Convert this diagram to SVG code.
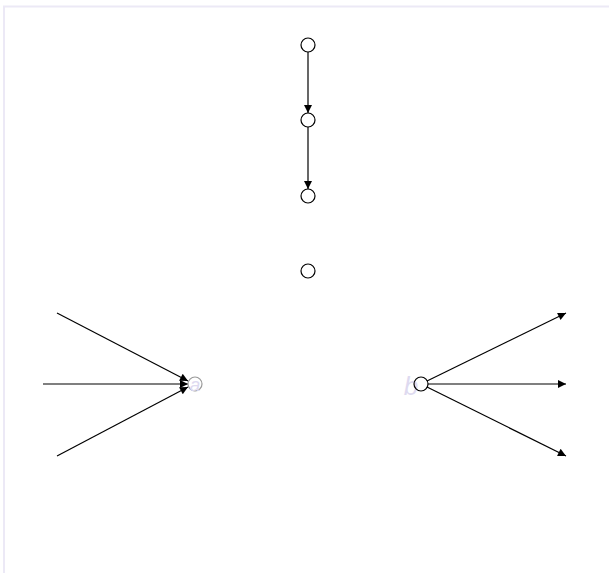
<svg xmlns="http://www.w3.org/2000/svg" width="609" height="573" viewBox="0 0 609 573">
<style>
.node{fill:#fff;stroke:#000;stroke-width:1.2}
.edge{stroke:#000;stroke-width:1.2;fill:none}
.lbl{font-family:"Liberation Sans",Arial,sans-serif;font-style:italic;fill:#dedaf0}
</style>
<defs>
<marker id="arr" viewBox="0 0 10 10" refX="10" refY="5" markerWidth="11" markerHeight="8" markerUnits="userSpaceOnUse" orient="auto">
<path d="M0,0 L10,5 L0,10 z" fill="#000"/>
</marker>
</defs>
<rect x="0" y="0" width="609" height="573" fill="#fff"/>
<path d="M4,573 V6.5 H609" fill="none" stroke="#ece9f6" stroke-width="2"/>
<g id="connectors">
<line class="edge" x1="308" y1="52" x2="308" y2="113" marker-end="url(#arr)"/>
<line class="edge" x1="308" y1="127" x2="308" y2="189" marker-end="url(#arr)"/>
<line class="edge" x1="57" y1="313" x2="188" y2="381" marker-end="url(#arr)"/>
<line class="edge" x1="43" y1="384" x2="188" y2="384" marker-end="url(#arr)"/>
<line class="edge" x1="57" y1="456" x2="188" y2="387" marker-end="url(#arr)"/>
<line class="edge" x1="427" y1="381" x2="566" y2="313" marker-end="url(#arr)"/>
<line class="edge" x1="428" y1="384" x2="566" y2="384" marker-end="url(#arr)"/>
<line class="edge" x1="427" y1="387" x2="566" y2="456" marker-end="url(#arr)"/>
</g>
<g id="n1"><circle class="node" cx="308" cy="45" r="7"/></g>
<g id="n2"><circle class="node" cx="308" cy="120" r="7"/></g>
<g id="n3"><circle class="node" cx="308" cy="196" r="7"/></g>
<g id="n4"><circle class="node" cx="308" cy="271" r="7"/></g>
<g id="a"><circle cx="195" cy="384" r="7" fill="#fff" stroke="#999" stroke-width="1.2"/><text class="lbl" x="195" y="391" font-size="19" text-anchor="middle">a</text></g>
<g id="b"><text class="lbl" x="411" y="395" font-size="26" text-anchor="middle">b</text><circle cx="421" cy="384" r="7" fill="none" stroke="#000" stroke-width="1.2"/></g>
</svg>
